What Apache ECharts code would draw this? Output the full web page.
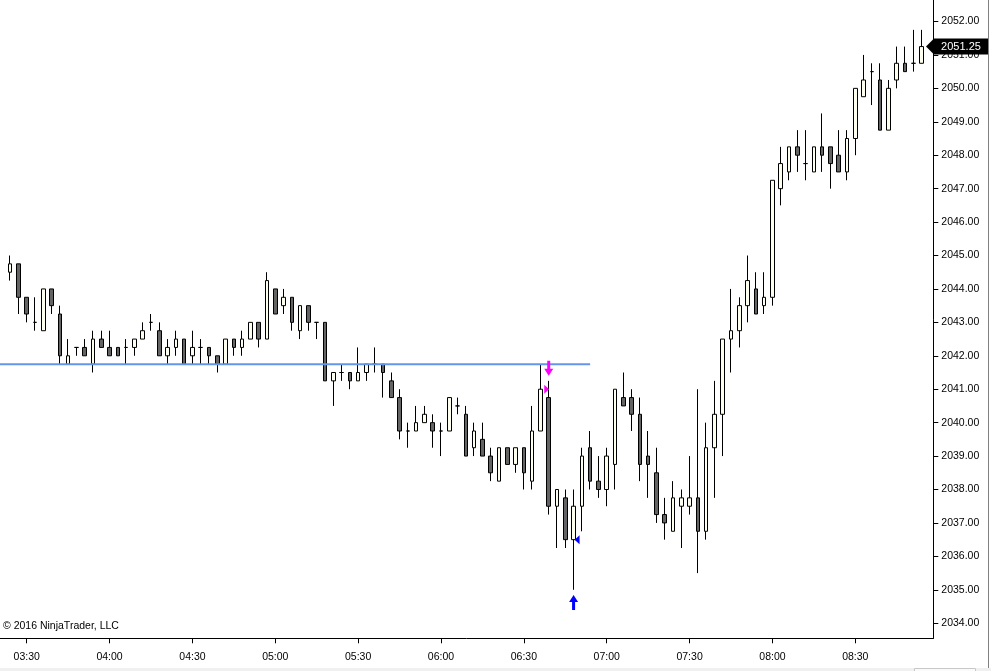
<!DOCTYPE html>
<html><head><meta charset="utf-8">
<script src="https://cdn.jsdelivr.net/npm/echarts@6.0.0/dist/echarts.min.js"></script>
<style>html,body{margin:0;padding:0;background:#fff}#c{width:991px;height:671px}</style>
</head><body><div id="c"></div><script>
// 3-minute bars
const times = [
 '03:24','03:27','03:30','03:33','03:36','03:39','03:42','03:45','03:48','03:51','03:54','03:57',
 '04:00','04:03','04:06','04:09','04:12','04:15','04:18','04:21','04:24','04:27','04:30','04:33','04:36','04:39','04:42','04:45','04:48','04:51','04:54','04:57',
 '05:00','05:03','05:06','05:09','05:12','05:15','05:18','05:21','05:24','05:27','05:30','05:33','05:36','05:39','05:42','05:45','05:48','05:51','05:54','05:57',
 '06:00','06:03','06:06','06:09','06:12','06:15','06:18','06:21','06:24','06:27','06:30','06:33','06:36','06:39','06:42','06:45','06:48','06:51','06:54','06:57',
 '07:00','07:03','07:06','07:09','07:12','07:15','07:18','07:21','07:24','07:27','07:30','07:33','07:36','07:39','07:42','07:45','07:48','07:51','07:54','07:57',
 '08:00','08:03','08:06','08:09','08:12','08:15','08:18','08:21','08:24','08:27','08:30','08:33','08:36','08:39','08:42','08:45','08:48','08:51','08:54'
];
const opens = [
 2044.5,2044.75,2043.75,2043,2042.75,2044,2043.25,2041.75,2042.25,2042.25,2041.75,2042.5,
 2042.25,2042.25,2042.25,2042.25,2042.5,2043,2042.75,2042,2042.25,2042.5,2042,2042.25,2042.25,2042,2041.75,2042.5,2042.25,2042.5,2043,2042.5,
 2044,2043.5,2043.75,2042.75,2043.5,2043,2043,2041.25,2041.5,2041.5,2041.25,2041.5,2041.75,2041.75,2041.25,2040.75,2039.75,2039.75,2040,2040,
 2039.75,2039.75,2040.5,2040.25,2039.25,2039.5,2039,2038.25,2039.25,2038.75,2039.25,2038.25,2039.75,2040.75,2037.5,2037.75,2036.5,2037.5,2039.25,2038.25,
 2038,2038.75,2040.75,2040.75,2040.25,2039,2038.5,2037.25,2036.75,2037.5,2037.5,2037.75,2036.75,2039.25,2040.25,2042.5,2042.75,2043.5,2044,2043.5,
 2043.75,2047,2047.5,2048.25,2047.75,2047.5,2048.25,2048.25,2048,2047.5,2048.5,2049.75,2050.5,2050.25,2048.75,2050.25,2050.75,2050.75,2050.75
];
const highs = [
 2045,2044.75,2043.75,2043.75,2044,2044,2043.5,2042.5,2042.25,2042.5,2042.75,2042.75,
 2042.75,2042.25,2042.5,2042.5,2043,2043.25,2043,2042.5,2042.75,2042.5,2042.75,2042.5,2042.25,2042,2042.5,2042.5,2042.75,2043,2043,2044.5,
 2044,2044,2043.75,2043.5,2043.5,2043,2043,2041.5,2041.75,2041.5,2042.25,2041.75,2042.25,2041.75,2041.5,2041,2040,2040.5,2040.5,2040.25,
 2040,2040.75,2040.75,2040.5,2040,2040,2039.25,2039.25,2039.25,2039.25,2039.25,2040.5,2041.75,2041.25,2038,2038,2038,2039.25,2039.75,2039,
 2039.25,2041,2041.5,2041,2040.75,2039.75,2039.25,2037.75,2038.25,2038,2039,2041,2040,2041.25,2042.5,2044,2043.75,2045,2044.5,2044.5,
 2047.25,2048.25,2048.25,2048.75,2048.75,2048.25,2049.25,2048.25,2048.75,2048.75,2050,2051,2050.75,2050.75,2050.25,2051.25,2051.25,2051.75,2051.75
];
const lows = [
 2044.25,2043.25,2043,2042.75,2042.75,2043.25,2041.75,2041.75,2042,2042,2041.5,2042.25,
 2042,2042,2041.75,2042,2042.5,2042.75,2042,2041.75,2042,2041.75,2041.75,2041.75,2041.75,2041.5,2041.75,2042,2042,2042.5,2042.25,2042.5,
 2043.25,2043.25,2042.75,2042.5,2042.75,2042.5,2041.25,2040.5,2041.25,2041,2041.25,2041.25,2041.5,2040.75,2040.75,2039.5,2039.25,2039.75,2040,2039.25,
 2039,2039.75,2040.25,2039,2039,2039,2038.25,2038.25,2038.75,2038.5,2038,2038,2039.75,2037.25,2036.25,2036.25,2035,2036.75,2038,2037.75,
 2037.5,2038,2040.5,2039.75,2038.25,2037.75,2037,2036.5,2036.75,2036.25,2037.25,2035.5,2036.5,2037.75,2039,2041.5,2042.25,2043,2043.25,2043.25,
 2043.5,2046.5,2047.25,2047.5,2047.25,2047.5,2047.5,2047,2047.5,2047.25,2048,2049.75,2049.5,2048.75,2048.75,2050,2050.5,2050.5,2050.75
];
const closes = [
 2044.75,2043.75,2043.25,2043,2044,2043.5,2042,2042,2042.25,2042,2042.5,2042.25,
 2042,2042,2042.25,2042.5,2042.75,2043,2042,2042.25,2042.5,2041.75,2042.25,2042.25,2042,2041.75,2042.5,2042.25,2042.5,2043,2042.5,2044.25,
 2043.25,2043.75,2043,2043.5,2043,2043,2041.25,2041.5,2041.5,2041.25,2041.5,2041.75,2041.75,2041.5,2040.75,2039.75,2039.75,2040,2040.25,2039.75,
 2039.75,2040.75,2040.5,2039,2039.75,2039,2038.5,2039.25,2038.75,2039.25,2038.5,2039.75,2041,2037.5,2038,2036.5,2037.5,2039,2038.25,2038,
 2039,2041,2040.5,2040.25,2038.75,2038.75,2037.25,2037,2037.75,2037.75,2037.75,2036.75,2039.25,2040.25,2042.5,2042.75,2043.5,2044.25,2043.25,2043.75,
 2047.25,2047.75,2048.25,2048,2047.75,2048.25,2048,2047.75,2047.5,2048.5,2050,2050.25,2050.5,2048.75,2050,2050.75,2050.5,2050.75,2051.25
];
const xTickLabels = ['03:30','04:00','04:30','05:00','05:30','06:00','06:30','07:00','07:30','08:00','08:30'];
const yTicks = [2034,2035,2036,2037,2038,2039,2040,2041,2042,2043,2044,2045,2046,2047,2048,2049,2050,2051,2052];
const levelPrice = 2041.75;
const levelEnd = '06:54';
const shortSignal = [['06:39', 2041.25]];
const shortEntry = [['06:39', 2041.00]];
const coverExit = [['06:48', 2036.50]];
const longSignal = [['06:48', 2035.00]];
const lastPrice = 2051.25;
const copyright = '\u00a9 2016 NinjaTrader, LLC';

function toMin(s){ const p = s.split(':'); return (+p[0])*60 + (+p[1]); }
function fmtMin(m){ const h = Math.floor(m/60), mm = Math.round(m%60); return String(h).padStart(2,'0')+':'+String(mm).padStart(2,'0'); }

// view window
const X_MIN = 200.33, X_MAX = 538.24, Y_MIN = 2033.549, Y_MAX = 2052.643;
const FONT = "'Liberation Sans', Arial, sans-serif";
const FS = 10.5;

const candleData = times.map((t,i)=>[toMin(t), opens[i], closes[i], lows[i], highs[i]]);
const ptsOf = arr => arr.map(d => [toMin(d[0]), d[1]]);
const xTickVals = xTickLabels.map(toMin);

const chart = echarts.init(document.getElementById('c'), null, {renderer:'canvas'});
chart.setOption({
  animation: false,
  backgroundColor: '#ffffff',
  grid: { left: 0, right: 57.7, top: 0, bottom: 32.7, containLabel: false },
  xAxis: {
    type: 'value', min: X_MIN, max: X_MAX,
    axisLine: { show: true, lineStyle: { color: '#000', width: 1 } },
    axisTick: { show: true, length: 5, customValues: xTickVals, lineStyle: { color: '#000' } },
    axisLabel: { show: true, customValues: xTickVals, formatter: v => fmtMin(v), color: '#000', fontSize: FS, fontFamily: FONT, margin: 13 },
    splitLine: { show: false }
  },
  yAxis: {
    type: 'value', position: 'right', min: Y_MIN, max: Y_MAX,
    axisLine: { show: true, lineStyle: { color: '#000', width: 1 } },
    axisTick: { show: true, length: 5, customValues: yTicks, lineStyle: { color: '#000' } },
    axisLabel: { show: true, customValues: yTicks, formatter: v => Number(v).toFixed(2), color: '#000', fontSize: FS, fontFamily: FONT, margin: 8 },
    splitLine: { show: false }
  },
  series: [
    {
      type: 'candlestick', name: 'ES',
      data: candleData,
      encode: { x: 0, y: [1,2,3,4] },
      barWidth: 4,
      clip: false,
      itemStyle: {
        color: '#FFFFF0', color0: '#646464',
        borderColor: '#000', borderColor0: '#000', borderColorDoji: '#000',
        borderWidth: 1
      },
      markPoint: {
        symbol: 'path://M0,8 L8,0 L62,0 L62,16 L8,16 Z',
        symbolSize: [62, 16],
        symbolOffset: [35.4, 0],
        itemStyle: { color: '#000' },
        label: { show: true, position: 'inside', offset: [4, 0], color: '#fff', fontSize: 11, fontFamily: FONT,
                 formatter: p => Number(p.value).toFixed(2) },
        data: [{ coord: [toMin(times[times.length-1]), lastPrice], value: lastPrice }]
      },
      z: 2
    },
    {
      type: 'line', name: 'level',
      data: [[X_MIN, levelPrice], [toMin(levelEnd), levelPrice]],
      symbol: 'none', lineStyle: { color: '#6495ED', width: 2 }, z: 3, silent: true
    },
    {
      type: 'scatter', name: 'shortSignal', data: ptsOf(shortSignal),
      symbol: 'path://M3,0 L6,0 L6,8 L9,8 L4.5,15 L0,8 L3,8 Z', symbolSize: [9, 15], symbolOffset: [0, -12.5],
      itemStyle: { color: '#FF00FF', opacity: 1 }, z: 4
    },
    {
      type: 'scatter', name: 'shortEntry', data: ptsOf(shortEntry),
      symbol: 'path://M0,0 L5,4.5 L0,9 Z', symbolSize: [5, 9], symbolOffset: [-2, 0],
      itemStyle: { color: '#FF00FF', opacity: 1 }, z: 4
    },
    {
      type: 'scatter', name: 'coverExit', data: ptsOf(coverExit),
      symbol: 'path://M5,0 L0,4.5 L5,9 Z', symbolSize: [5, 9], symbolOffset: [3.5, 0],
      itemStyle: { color: '#0000FF', opacity: 1 }, z: 4
    },
    {
      type: 'scatter', name: 'longSignal', data: ptsOf(longSignal),
      symbol: 'path://M4.5,0 L9,7 L6,7 L6,15 L3,15 L3,7 L0,7 Z', symbolSize: [9, 15], symbolOffset: [0, 12.7],
      itemStyle: { color: '#0000FF', opacity: 1 }, z: 4
    }
  ],
  graphic: [
    { type: 'text', left: 3, top: 621, style: { text: copyright, fill: '#000', font: "10.5px 'Liberation Sans', Arial, sans-serif" } },
    { type: 'rect', left: 0, top: 668, shape: { width: 991, height: 3 }, style: { fill: '#F0F0F0' } },
    { type: 'rect', left: 914, top: 668, shape: { width: 61, height: 3 }, style: { fill: '#FAFAFA', stroke: '#C8C8C8', lineWidth: 1 } },
    { type: 'line', shape: { x1: 988.5, y1: 0, x2: 988.5, y2: 668 }, style: { stroke: '#808080', lineWidth: 1 } }
  ]
});
</script></body></html>
